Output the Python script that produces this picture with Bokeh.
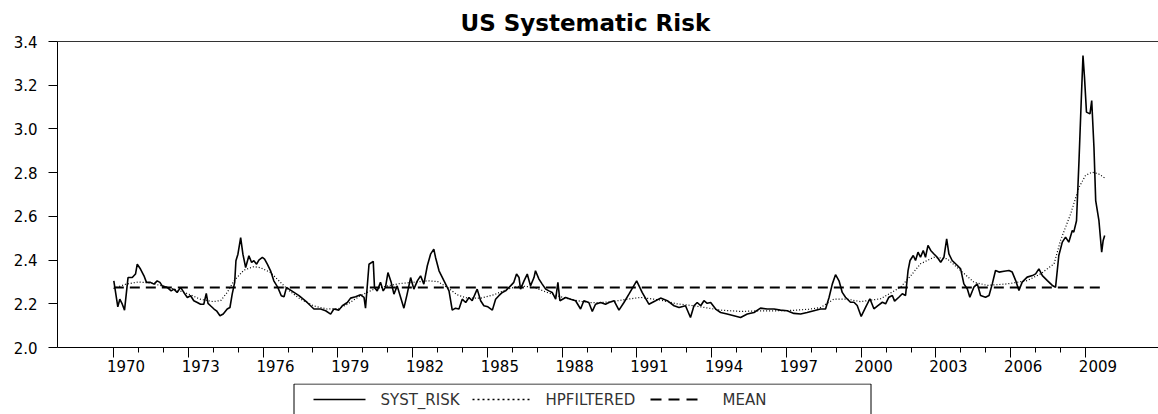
from bokeh.plotting import figure
from bokeh.layouts import column
from bokeh.models import (Range1d, LinearAxis, FixedTicker, CustomJSTickFormatter,
                          PrintfTickFormatter)
from bokeh.core.properties import value
from bokeh.embed import file_html
from bokeh.resources import INLINE

# ---------------- data ----------------
title_text = "US Systematic Risk"
series_names = ["SYST_RISK", "HPFILTERED", "MEAN"]
year_ticks = list(range(1970, 2010, 3))
minor_years = list(range(1971, 2009))
y_ticks = [2.0, 2.2, 2.4, 2.6, 2.8, 3.0, 3.2, 3.4]

syst_t = [1970.01, 1970.17, 1970.25, 1970.35, 1970.44, 1970.58, 1970.75, 1970.88, 1970.95, 1971.08,
          1971.22, 1971.32, 1971.48, 1971.62, 1971.75, 1971.86, 1971.95, 1972.15, 1972.31, 1972.42,
          1972.55, 1972.69, 1972.82, 1972.96, 1973.09, 1973.22, 1973.36, 1973.49, 1973.62, 1973.72,
          1973.79, 1973.89, 1974.03, 1974.13, 1974.27, 1974.40, 1974.56, 1974.67, 1974.76, 1974.86,
          1974.91, 1974.99, 1975.10, 1975.19, 1975.30, 1975.43, 1975.54, 1975.63, 1975.74, 1975.83,
          1975.97, 1976.06, 1976.17, 1976.30, 1976.43, 1976.59, 1976.73, 1976.84, 1976.94, 1977.04,
          1977.24, 1977.44, 1977.77, 1978.04, 1978.31, 1978.51, 1978.71, 1978.84, 1979.04, 1979.18,
          1979.38, 1979.51, 1979.71, 1979.91, 1980.05, 1980.11, 1980.25, 1980.42, 1980.47, 1980.58,
          1980.71, 1980.82, 1980.91, 1981.01, 1981.14, 1981.25, 1981.38, 1981.52, 1981.65, 1981.78,
          1981.92, 1982.05, 1982.19, 1982.32, 1982.45, 1982.59, 1982.72, 1982.85, 1982.92, 1983.06,
          1983.26, 1983.46, 1983.59, 1983.72, 1983.86, 1983.99, 1984.13, 1984.26, 1984.39, 1984.59,
          1984.73, 1984.86, 1985.02, 1985.20, 1985.33, 1985.46, 1985.60, 1985.73, 1985.93, 1986.06,
          1986.17, 1986.27, 1986.33, 1986.47, 1986.60, 1986.73, 1986.87, 1986.93, 1987.07, 1987.20,
          1987.34, 1987.47, 1987.60, 1987.74, 1987.83, 1987.91, 1988.14, 1988.34, 1988.54, 1988.74,
          1988.87, 1989.07, 1989.21, 1989.34, 1989.54, 1989.74, 1989.88, 1990.08, 1990.28, 1990.48,
          1990.68, 1990.99, 1991.21, 1991.48, 1991.75, 1991.95, 1992.22, 1992.49, 1992.69, 1992.95,
          1993.15, 1993.29, 1993.42, 1993.56, 1993.69, 1993.82, 1993.96, 1994.16, 1994.36, 1994.62,
          1994.89, 1995.16, 1995.43, 1995.70, 1995.96, 1996.23, 1996.50, 1996.76, 1997.03, 1997.30,
          1997.57, 1997.83, 1998.10, 1998.37, 1998.57, 1998.71, 1998.84, 1998.97, 1999.11, 1999.24,
          1999.37, 1999.57, 1999.71, 1999.84, 2000.00, 2000.18, 2000.35, 2000.51, 2000.67, 2000.85,
          2000.98, 2001.11, 2001.25, 2001.34, 2001.51, 2001.65, 2001.78, 2001.88, 2001.96, 2002.09,
          2002.18, 2002.28, 2002.38, 2002.49, 2002.58, 2002.68, 2002.79, 2002.92, 2003.05, 2003.19,
          2003.32, 2003.43, 2003.52, 2003.65, 2003.86, 2003.99, 2004.12, 2004.26, 2004.36, 2004.52,
          2004.66, 2004.79, 2004.99, 2005.13, 2005.26, 2005.39, 2005.53, 2005.73, 2005.93, 2006.06,
          2006.20, 2006.33, 2006.46, 2006.66, 2006.87, 2007.00, 2007.13, 2007.27, 2007.47, 2007.67,
          2007.80, 2007.93, 2008.07, 2008.20, 2008.33, 2008.47, 2008.53, 2008.64, 2008.74, 2008.83,
          2008.90, 2008.96, 2009.04, 2009.18, 2009.25, 2009.34, 2009.41, 2009.54, 2009.65, 2009.71,
          2009.77]
syst_v = [2.305, 2.186, 2.221, 2.198, 2.171, 2.320, 2.320, 2.336, 2.381, 2.359,
          2.328, 2.298, 2.298, 2.290, 2.305, 2.298, 2.282, 2.275, 2.259, 2.267,
          2.252, 2.275, 2.252, 2.229, 2.237, 2.214, 2.206, 2.198, 2.198, 2.247,
          2.202, 2.191, 2.176, 2.168, 2.145, 2.153, 2.176, 2.183, 2.244, 2.298,
          2.397, 2.427, 2.503, 2.427, 2.366, 2.420, 2.389, 2.397, 2.381, 2.400,
          2.412, 2.404, 2.381, 2.351, 2.305, 2.275, 2.237, 2.232, 2.275, 2.267,
          2.252, 2.237, 2.206, 2.176, 2.176, 2.168, 2.153, 2.176, 2.171, 2.191,
          2.206, 2.226, 2.232, 2.241, 2.229, 2.180, 2.381, 2.394, 2.275, 2.259,
          2.298, 2.259, 2.275, 2.343, 2.298, 2.244, 2.282, 2.229, 2.180, 2.244,
          2.320, 2.267, 2.305, 2.328, 2.290, 2.374, 2.427, 2.450, 2.412, 2.351,
          2.305, 2.259, 2.171, 2.180, 2.176, 2.221, 2.206, 2.229, 2.214, 2.267,
          2.214, 2.191, 2.186, 2.171, 2.221, 2.237, 2.252, 2.259, 2.282, 2.298,
          2.336, 2.320, 2.267, 2.305, 2.336, 2.282, 2.320, 2.351, 2.313, 2.290,
          2.267, 2.259, 2.252, 2.221, 2.298, 2.214, 2.229, 2.221, 2.214, 2.176,
          2.214, 2.206, 2.165, 2.198, 2.206, 2.198, 2.206, 2.214, 2.171, 2.206,
          2.244, 2.305, 2.252, 2.198, 2.214, 2.226, 2.214, 2.191, 2.183, 2.191,
          2.137, 2.191, 2.206, 2.191, 2.214, 2.202, 2.206, 2.176, 2.160, 2.153,
          2.145, 2.137, 2.153, 2.160, 2.180, 2.176, 2.176, 2.171, 2.168, 2.156,
          2.153, 2.160, 2.168, 2.176, 2.176, 2.229, 2.290, 2.333, 2.305, 2.252,
          2.230, 2.207, 2.207, 2.192, 2.142, 2.185, 2.223, 2.177, 2.192, 2.207,
          2.200, 2.230, 2.238, 2.212, 2.230, 2.246, 2.238, 2.352, 2.398, 2.421,
          2.398, 2.436, 2.413, 2.444, 2.413, 2.467, 2.444, 2.428, 2.413, 2.390,
          2.413, 2.497, 2.428, 2.398, 2.375, 2.360, 2.291, 2.268, 2.230, 2.276,
          2.291, 2.238, 2.230, 2.238, 2.291, 2.352, 2.345, 2.349, 2.352, 2.345,
          2.306, 2.261, 2.299, 2.322, 2.329, 2.337, 2.360, 2.329, 2.306, 2.284,
          2.276, 2.421, 2.482, 2.505, 2.482, 2.535, 2.528, 2.580, 2.855, 3.130,
          3.336, 3.237, 3.077, 3.069, 3.130, 2.916, 2.672, 2.580, 2.436, 2.490,
          2.512]

hp_t = [1970.0, 1970.5, 1971.0, 1971.5, 1972.0, 1972.5, 1973.0, 1973.5, 1974.0, 1974.3,
        1974.56, 1974.83, 1975.23, 1975.63, 1975.9, 1976.3, 1976.7, 1977.04, 1977.5, 1978.04,
        1978.57, 1979.04, 1979.38, 1979.9, 1980.45, 1981.0, 1981.5, 1982.0, 1982.6, 1983.0,
        1983.39, 1983.79, 1984.19, 1984.73, 1985.26, 1985.8, 1986.33, 1986.87, 1987.4, 1987.94,
        1988.47, 1989.0, 1989.5, 1990.0, 1990.61, 1991.15, 1991.95, 1992.6, 1993.29, 1994.36,
        1995.16, 1995.96, 1996.6, 1997.3, 1997.9, 1998.37, 1998.9, 1999.44, 1999.98, 2000.78,
        2001.58, 2002.0, 2002.38, 2002.92, 2003.45, 2003.99, 2004.52, 2005.06, 2005.86, 2006.66,
        2007.2, 2007.74, 2008.0, 2008.4, 2008.74, 2009.0, 2009.26, 2009.53, 2009.77]
hp_v = [2.270, 2.290, 2.300, 2.295, 2.280, 2.265, 2.245, 2.220, 2.210, 2.215,
        2.252, 2.305, 2.354, 2.370, 2.365, 2.343, 2.298, 2.260, 2.221, 2.190,
        2.176, 2.178, 2.198, 2.237, 2.267, 2.282, 2.293, 2.298, 2.305, 2.302,
        2.275, 2.241, 2.226, 2.226, 2.241, 2.267, 2.282, 2.275, 2.252, 2.232,
        2.217, 2.206, 2.205, 2.210, 2.221, 2.229, 2.217, 2.200, 2.191, 2.171,
        2.165, 2.168, 2.168, 2.170, 2.175, 2.183, 2.221, 2.221, 2.210, 2.223,
        2.276, 2.330, 2.383, 2.413, 2.406, 2.352, 2.299, 2.284, 2.291, 2.306,
        2.337, 2.383, 2.490, 2.610, 2.733, 2.787, 2.802, 2.794, 2.776]

mean_value = 2.274

# ---------------- styles ----------------
FONT = "DejaVu Sans"
SYST_STYLE = dict(line_color="black", line_width=1.6)
HP_STYLE = dict(line_color="black", line_width=1.2, line_dash="1 2")
MEAN_STYLE = dict(line_color="black", line_width=2, line_dash="10 6")

# ---------------- main chart ----------------
p = figure(width=1158, height=383,
           x_range=Range1d(1967.75, 2011.93), y_range=Range1d(2.0, 3.4),
           output_backend="svg", toolbar_location=None,
           min_border_left=57, min_border_right=0, min_border_top=41, min_border_bottom=36)
p.outline_line_color = None
p.grid.visible = False
p.background_fill_color = "white"
p.border_fill_color = "white"

p.line(syst_t, syst_v, **SYST_STYLE)
p.line(hp_t, hp_v, **HP_STYLE)
p.line([syst_t[0], syst_t[-1]], [mean_value, mean_value], **MEAN_STYLE)

# x axis: tick marks at year starts (no labels)
xa = p.xaxis[0]
xa.ticker = FixedTicker(ticks=year_ticks, minor_ticks=minor_years)
xa.formatter = CustomJSTickFormatter(code="return '';")
xa.major_tick_out = 10
xa.major_tick_in = 0
xa.minor_tick_out = 5
xa.minor_tick_in = 0
xa.major_label_text_font_size = "1px"
xa.major_label_standoff = 0
xa.axis_line_color = "black"
xa.major_tick_line_color = "black"
xa.minor_tick_line_color = "black"

# x axis labels centred within each labelled year
xl = LinearAxis(ticker=FixedTicker(ticks=[y + 0.5 for y in year_ticks], minor_ticks=[]),
                formatter=CustomJSTickFormatter(code="return String(Math.floor(tick));"),
                axis_line_color=None, major_tick_line_color=None, minor_tick_line_color=None,
                major_tick_out=0, major_tick_in=0, minor_tick_out=0, minor_tick_in=0,
                major_label_standoff=2, major_label_text_font=FONT,
                major_label_text_font_size="15px", major_label_text_color="black")
p.add_layout(xl, "below")

# y axis
ya = p.yaxis[0]
ya.ticker = FixedTicker(ticks=y_ticks, minor_ticks=[])
ya.formatter = PrintfTickFormatter(format="%.1f")
ya.major_tick_out = 9
ya.major_tick_in = 0
ya.minor_tick_out = 0
ya.minor_tick_in = 0
ya.major_label_standoff = 11
ya.major_label_text_font = FONT
ya.major_label_text_font_size = "15px"
ya.major_label_text_color = "black"
ya.axis_line_color = "black"

# top frame line
top = LinearAxis(ticker=FixedTicker(ticks=[2011.0], minor_ticks=[]),
                 formatter=CustomJSTickFormatter(code="return '';"),
                 major_label_text_font_size="1px",
                 major_tick_out=0, major_tick_in=0, minor_tick_out=0, minor_tick_in=0,
                 major_label_standoff=0, axis_line_color="#333333")
p.add_layout(top, "above")

# title
p.title.text = title_text
p.title.text_font = FONT
p.title.text_font_style = "bold"
p.title.text_font_size = "23px"
p.title.text_color = "black"
p.title.align = "left"
p.title.offset = 403
p.title.standoff = 12

# ---------------- legend strip (page pixel coordinates) ----------------
LEG_LEFT, LEG_W, LEG_H = 57, 1158, 31
q = figure(width=LEG_W, height=LEG_H, x_range=Range1d(LEG_LEFT, LEG_W), y_range=Range1d(0, LEG_H),
           output_backend="svg", toolbar_location=None, x_axis_type=None, y_axis_type=None,
           min_border_left=LEG_LEFT, min_border_right=0, min_border_top=0, min_border_bottom=0)
q.outline_line_color = None
q.grid.visible = False
q.background_fill_color = "white"
q.border_fill_color = "white"

mid = 15
q.quad(left=[293.5], right=[870.5], top=[LEG_H - 0.5], bottom=[-3],
       fill_color=None, line_color="black", line_width=1)
q.line([313, 365], [mid, mid], **SYST_STYLE)
q.line([472, 530], [mid, mid], line_color="black", line_width=1.5, line_dash="2 3")
q.line([650, 697], [mid, mid], line_color="black", line_width=2, line_dash="11 7")
q.text(x=[380, 545, 722], y=[mid, mid, mid], text=series_names,
       text_font=value(FONT), text_font_size="15px", text_color="#333333",
       text_baseline="middle", text_align="left")

layout = column(p, q, spacing=0)
open("out.html", "w").write(file_html(layout, INLINE))
